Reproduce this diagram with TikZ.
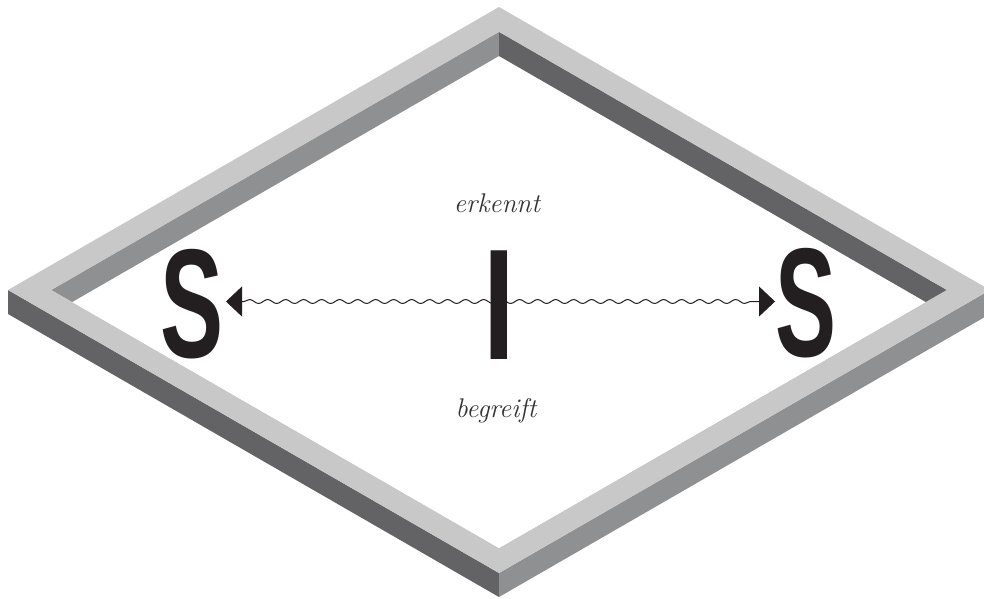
\documentclass[tikz,border=0pt]{standalone}
\usepackage{fontspec}
\newfontfamily\letterfont{Liberation Sans}
\usetikzlibrary{arrows.meta,decorations.pathmorphing,calc}
\definecolor{topface}{HTML}{C8C8C8}
\definecolor{midface}{HTML}{8F9092}
\definecolor{darkface}{HTML}{636365}
\definecolor{inkc}{HTML}{231F20}
\definecolor{wordc}{HTML}{333333}
\tikzset{
  bigletter/.style={inner sep=0pt, anchor=base, text=inkc, font=\letterfont\bfseries\fontsize{155}{155}\selectfont},
  barletter/.style={inner sep=0pt, anchor=base, text=inkc, font=\letterfont\bfseries\fontsize{158}{158}\selectfont},
  verb/.style={inner sep=0pt, anchor=base, text=wordc, font=\itshape\fontsize{27}{27}\selectfont},
  wave/.style={draw=inkc, line width=1pt, decorate,
    decoration={snake, amplitude=2pt, segment length=18pt, pre length=18pt, post length=18pt},
    {Triangle[length=16pt,width=30pt]}-{Triangle[length=16pt,width=30pt]}}
}
\begin{document}
\begin{tikzpicture}[x=1pt,y=-1pt]
\useasboundingbox (0,0) rectangle (984,598);
% outer square (top face outline)
\coordinate (T) at (499,7);
\coordinate (R) at (990,290);
\coordinate (B) at (499,573);
\coordinate (L) at (8,290);
% inner square
\coordinate (Ti) at (499,32);
\coordinate (Ri) at (946.6,290);
\coordinate (Bi) at (499,548);
\coordinate (Li) at (51.4,290);
% outer walls
\fill[darkface] (L) -- (B) -- ($(B)+(0,24)$) -- ($(L)+(0,24)$) -- cycle;
\fill[midface] (B) -- (R) -- ($(R)+(0,24)$) -- ($(B)+(0,24)$) -- cycle;
% top face
\fill[topface, even odd rule] (T) -- (R) -- (B) -- (L) -- cycle (Ti) -- (Ri) -- (Bi) -- (Li) -- cycle;
% inner walls seen through the opening
\begin{scope}
\clip (Ti) -- (Ri) -- (Bi) -- (Li) -- cycle;
\fill[white] (Ti) -- (Ri) -- (Bi) -- (Li) -- cycle;
\fill[midface] (Li) -- (Ti) -- ($(Ti)+(0,24)$) -- ($(Li)+(0,24)$) -- cycle;
\fill[darkface] (Ti) -- (Ri) -- ($(Ri)+(0,24)$) -- ($(Ti)+(0,24)$) -- cycle;
\end{scope}
% letters
\node[bigletter] (SL) at (192.5,357.5) {\scalebox{0.61}[1]{S}};
\node[bigletter] (SR) at (806,356.5) {\scalebox{0.59}[1]{S}};
\coordinate (aL) at (226,301.5);
\coordinate (aR) at (775,301.5);
\draw[wave] (aL) -- (aR);
\node[barletter] (I) at (499.5,359) {\scalebox{0.72}[1]{I}};
\node[verb] (erk) at (497,212) {erkennt};
\node[verb] (beg) at (496,417) {begreift};
\end{tikzpicture}
\end{document}
